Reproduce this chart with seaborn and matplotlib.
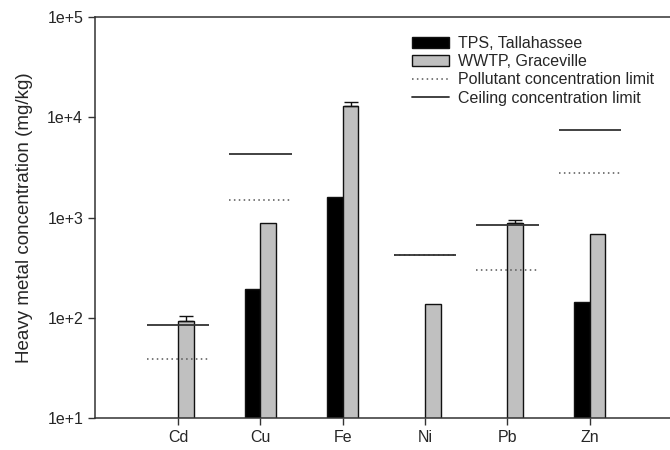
import numpy as np
import pandas as pd
import matplotlib
matplotlib.use("Agg")
import matplotlib.pyplot as plt
import seaborn as sns
from matplotlib.patches import Patch
from matplotlib.lines import Line2D

metals = ["Cd", "Cu", "Fe", "Ni", "Pb", "Zn"]
tps = [np.nan, 195, 1600, np.nan, np.nan, 145]
wwtp = [93, 880, 13000, 138, 880, 690]
wwtp_err = [12, 0, 1300, 0, 70, 0]
pollutant_limit = [39, 1500, np.nan, 420, 300, 2800]
ceiling_limit = [85, 4300, np.nan, 420, 840, 7500]
series = ["TPS, Tallahassee", "WWTP, Graceville"]
ytick_vals = [10, 100, 1000, 10000, 100000]
ytick_labels = ["1e+1", "1e+2", "1e+3", "1e+4", "1e+5"]

sns.set_style("ticks")
plt.rcParams["font.family"] = ["Liberation Sans", "DejaVu Sans"]

df = pd.DataFrame({
    "metal": metals * 2,
    "site": [series[0]] * len(metals) + [series[1]] * len(metals),
    "value": tps + wwtp,
})

fig = plt.figure(figsize=(6.7, 4.5), dpi=100)
ax = fig.add_axes([95 / 670, 32 / 450, 1 - 95 / 670 + 0.002, 401 / 450])
ax.set_yscale("log")

sns.barplot(data=df, x="metal", y="value", hue="site", order=metals,
            hue_order=series, palette=["#000000", "#c0c0c0"], width=0.38,
            edgecolor="#111111", linewidth=1.0, saturation=1, errorbar=None,
            legend=False, ax=ax)

# error bars (upper only) on WWTP bars
half = 0.095
for i, (v, e) in enumerate(zip(wwtp, wwtp_err)):
    if e > 0:
        ax.errorbar(i + half, v, yerr=[[0], [e]], fmt="none", ecolor="#111111",
                    elinewidth=1.0, capsize=4.8, capthick=1.0, zorder=3)

# limit lines
for i in range(len(metals)):
    if not np.isnan(pollutant_limit[i]):
        ax.hlines(pollutant_limit[i], i - 0.38, i + 0.38, colors="#555555",
                  linestyles=(0, (1, 2.2)), linewidth=1.1, zorder=4)
    if not np.isnan(ceiling_limit[i]):
        ax.hlines(ceiling_limit[i], i - 0.38, i + 0.38, colors="#333333",
                  linestyles="solid", linewidth=1.3, zorder=5)

ax.set_xlim(-1.01, 5.99)
ax.set_ylim(10, 100000)
ax.set_yticks(ytick_vals)
ax.set_yticklabels(ytick_labels)
ax.yaxis.set_minor_locator(matplotlib.ticker.NullLocator())
ax.set_xlabel("")
ax.set_ylabel("Heavy metal concentration (mg/kg)", fontsize=13.5, labelpad=10)
ax.tick_params(axis="both", labelsize=11.5, length=5, width=1.0, color="#333333",
               direction="out")
for s in ["left", "bottom", "top"]:
    ax.spines[s].set_color("#333333")
    ax.spines[s].set_linewidth(1.1)
ax.spines["right"].set_visible(False)

handles = [
    Patch(facecolor="#000000", edgecolor="#111111", linewidth=1.0),
    Patch(facecolor="#c0c0c0", edgecolor="#111111", linewidth=1.0),
    Line2D([], [], color="#555555", linestyle=(0, (1, 2.2)), linewidth=1.1),
    Line2D([], [], color="#333333", linestyle="solid", linewidth=1.3),
]
labels = series + ["Pollutant concentration limit", "Ceiling concentration limit"]
fig.legend(handles, labels, loc="upper left",
           bbox_to_anchor=(412 / 670, 1 - 36 / 450), frameon=False,
           fontsize=11.5, handlelength=2.3, handleheight=0.7, handletextpad=0.6,
           labelspacing=0.2, borderpad=0, borderaxespad=0)

fig.savefig("out.png", dpi=100)
